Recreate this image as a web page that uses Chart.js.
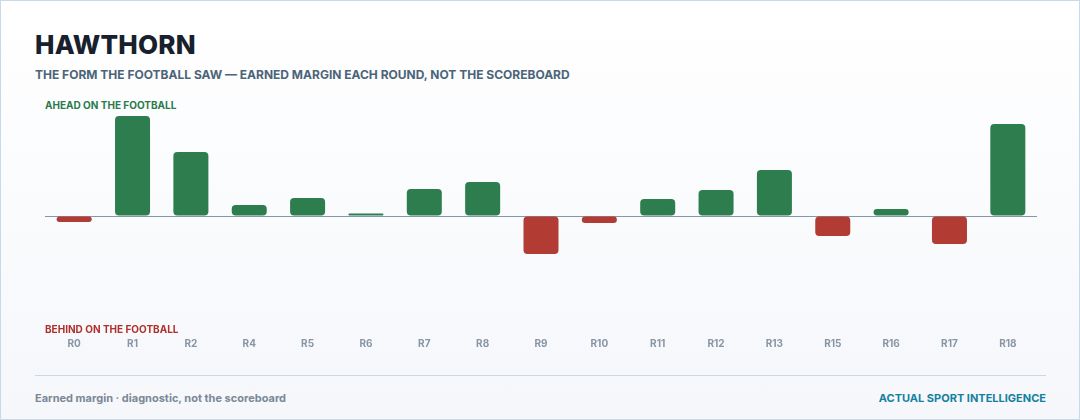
<!DOCTYPE html>
<html>
<head>
<meta charset="utf-8">
<script src="https://cdn.jsdelivr.net/npm/chart.js@4.4.1/dist/chart.umd.min.js"></script>
<style>
  html, body { margin: 0; padding: 0; }
  body { width: 1080px; height: 420px; overflow: hidden; font-family: Inter, "Noto Sans", sans-serif; }
  .card { position: relative; box-sizing: border-box; width: 1080px; height: 420px;
    border: 1px solid #c8d9ea; background: linear-gradient(180deg, #ffffff 0%, #f5f7fb 100%); }
  .title { position: absolute; left: 34px; top: 28px; font-size: 26px; font-weight: 800; color: #17202c; letter-spacing: 0.2px; }
  .sub { position: absolute; left: 34px; top: 66px; font-size: 12px; font-weight: 700; color: #4b6479; }
  .ahead { position: absolute; left: 44px; top: 98px; font-size: 10px; font-weight: 700; color: #2b7a4b; }
  .behind { position: absolute; left: 44px; top: 322px; font-size: 10px; font-weight: 700; color: #b0302b; }
  .rule { position: absolute; left: 34px; right: 33px; top: 374px; height: 1px; background: #cbd9e6; }
  .foot { position: absolute; left: 34px; top: 390px; font-size: 11px; font-weight: 700; color: #7b8896; }
  .brand { position: absolute; right: 33px; top: 390px; font-size: 11px; font-weight: 700; color: #14809f; }
  #wrap { position: absolute; left: 0; top: 108px; width: 1078px; height: 263px; }
</style>
</head>
<body>
<div class="card">
  <div class="title">HAWTHORN</div>
  <div class="sub">THE FORM THE FOOTBALL SAW — EARNED MARGIN EACH ROUND, NOT THE SCOREBOARD</div>
  <div class="ahead">AHEAD ON THE FOOTBALL</div>
  <div id="wrap"><canvas id="c"></canvas></div>
  <div class="behind">BEHIND ON THE FOOTBALL</div>
  <div class="rule"></div>
  <div class="foot">Earned margin · diagnostic, not the scoreboard</div>
  <div class="brand">ACTUAL SPORT INTELLIGENCE</div>
</div>
<script>
const rounds = ["R0","R1","R2","R4","R5","R6","R7","R8","R9","R10","R11","R12","R13","R15","R16","R17","R18"];
const earnedMargin = [-3, 50, 32, 5.5, 9, 1.2, 13.5, 17, -19, -3.5, 8.5, 13, 23, -10, 3.5, -14, 46];
const aheadColor = "#2e7d4f";
const behindColor = "#b23c33";

const maxAbs = Math.max(...earnedMargin.map(v => Math.abs(v)));

new Chart(document.getElementById("c"), {
  type: "bar",
  data: {
    labels: rounds,
    datasets: [{
      data: earnedMargin,
      backgroundColor: earnedMargin.map(v => v >= 0 ? aheadColor : behindColor),
      borderRadius: 4,
      borderSkipped: false,
      categoryPercentage: 1,
      barPercentage: 0.6
    }]
  },
  options: {
    responsive: true,
    maintainAspectRatio: false,
    animation: false,
    layout: { padding: { left: 44, right: 42, top: 7, bottom: 0 } },
    plugins: { legend: { display: false }, tooltip: { enabled: false } },
    scales: {
      x: {
        grid: { display: false, drawTicks: false },
        border: { display: false },
        ticks: { color: "#8795a4", font: { family: "Inter", size: 10, weight: "700" }, padding: 22, maxRotation: 0 }
      },
      y: {
        min: -maxAbs, max: maxAbs,
        ticks: { display: false },
        border: { display: false },
        grid: {
          drawTicks: false,
          color: ctx => ctx.tick && ctx.tick.value === 0 ? "#8396aa" : "transparent",
          lineWidth: 1
        }
      }
    }
  }
});
</script>
</body>
</html>
